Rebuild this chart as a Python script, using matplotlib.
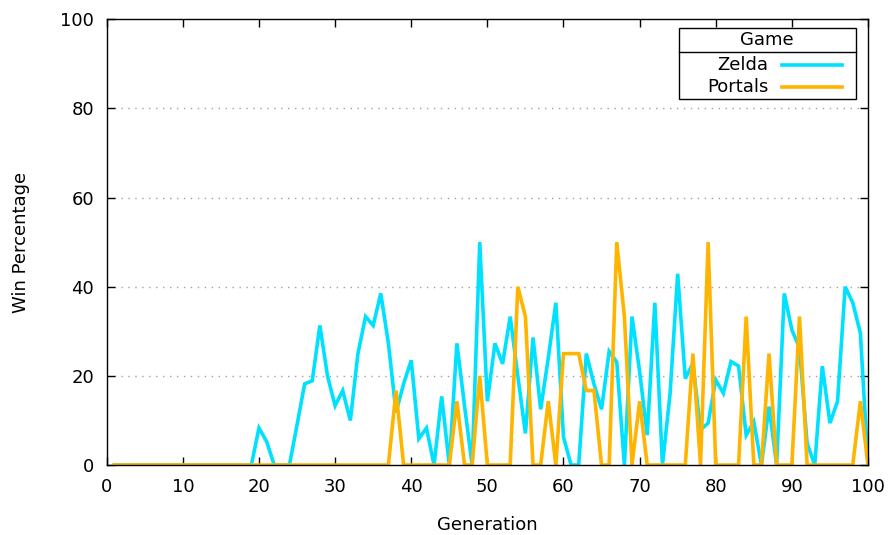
import matplotlib.pyplot as plt
from matplotlib.patches import Rectangle
from matplotlib.lines import Line2D

OUT_FILE = "out.png"

generations = list(range(1, 101))

zelda = [0] * 19 + [
    8.3, 5.3, 0, 0, 0, 9.0, 18.2, 18.9, 31.3, 20.0,
    13.3, 16.7, 10.0, 25.0, 33.3, 31.3, 38.5, 27.3, 11.8, 18.2,
    23.5, 5.9, 8.3, 0, 15.4, 0, 27.3, 13.3, 0, 50.0,
    14.3, 27.3, 22.7, 33.3, 20.0, 7.1, 28.6, 12.5, 24.0, 36.4,
    6.3, 0, 0, 25.0, 18.2, 12.5, 25.5, 23.1, 0, 33.3,
    21.0, 6.7, 36.4, 0, 16.0, 42.9, 19.4, 22.8, 7.9, 9.4,
    19.1, 16.1, 23.2, 22.2, 6.7, 9.7, 0, 13.1, 0, 38.5,
    30.3, 26.3, 4.9, 0, 22.2, 9.4, 14.3, 40.0, 36.4, 29.6,
    0,
]

portals = [0] * 37 + [
    16.7, 0, 0, 0, 0, 0, 0, 0, 14.3, 0,
    0, 20.0, 0, 0, 0, 0, 40.0, 33.3, 0, 0,
    14.3, 0, 25.0, 25.0, 25.0, 16.7, 16.7, 0, 0, 50.0,
    33.3, 0, 14.3, 0, 0, 0, 0, 0, 0, 25.0,
    0, 50.0, 0, 0, 0, 0, 33.3, 0, 0, 25.0,
    0, 0, 0, 33.3, 0, 0, 0, 0, 0, 0,
    0, 14.3, 0,
]

series = [("Zelda", zelda, "#00e1ff"), ("Portals", portals, "#ffb400")]


def main():
    plt.rcParams["font.family"] = ["DejaVu Sans"]
    fig = plt.figure(figsize=(8.93, 5.35), dpi=100)
    ax = fig.add_axes([0.1195, 0.1308, 0.8525, 0.8332])

    for name, values, color in series:
        ax.plot(generations, values, color=color, lw=2.6, label=name,
                solid_joinstyle="miter")

    ax.set_xlim(0, 100)
    ax.set_ylim(0, 100)
    ax.set_xticks(range(0, 101, 10))
    ax.set_yticks(range(0, 101, 20))
    ax.tick_params(direction="in", length=5.5, width=1, labelsize=13,
                   top=True, right=True, pad=9)
    for spine in ax.spines.values():
        spine.set_linewidth(1)
    for y in range(20, 100, 20):
        ax.axhline(y, color="#a0a0a0", lw=1, ls=(0, (1, 4)), zorder=0)

    ax.set_xlabel("Generation", fontsize=13, labelpad=15)
    ax.set_ylabel("Win Percentage", fontsize=13, labelpad=22)

    # gnuplot style key with title row
    x0, x1, y0, y1, ymid = 0.7517, 0.9843, 0.8212, 0.9805, 0.9266
    ax.add_patch(Rectangle((x0, y0), x1 - x0, y1 - y0, transform=ax.transAxes,
                           facecolor="white", edgecolor="black", lw=1, zorder=5))
    ax.add_line(Line2D([x0, x1], [ymid, ymid], transform=ax.transAxes,
                       color="black", lw=1, zorder=6))
    ax.text(0.867, 0.9536, "Game", transform=ax.transAxes, ha="center",
            va="center", fontsize=13, zorder=6)
    for (name, _, color), ty in zip(series, [0.8975, 0.8485]):
        ax.text(0.869, ty, name, transform=ax.transAxes, ha="right",
                va="center", fontsize=13, zorder=6)
        ax.add_line(Line2D([0.887, 0.966], [ty, ty], transform=ax.transAxes,
                           color=color, lw=2.6, zorder=6))

    fig.savefig(OUT_FILE, dpi=100)


if __name__ == "__main__":
    main()
